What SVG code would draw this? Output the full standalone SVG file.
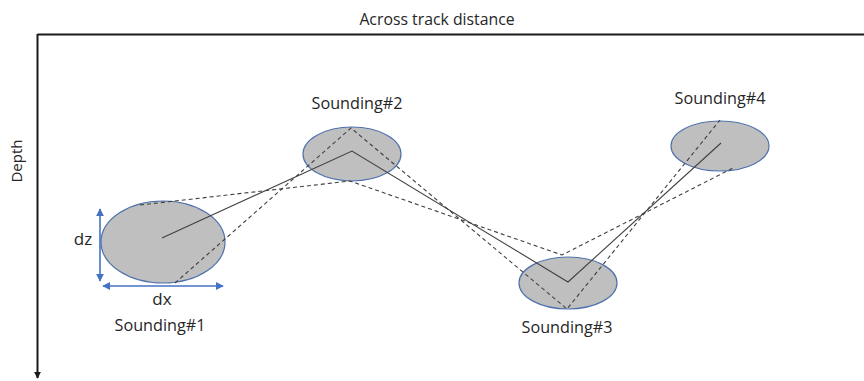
<svg xmlns="http://www.w3.org/2000/svg" width="864" height="381" viewBox="0 0 864 381">
<defs>
<style>
.lbl{font-family:"Open Sans","Liberation Sans",sans-serif;font-size:16.2px;fill:#262626;text-anchor:middle}
.ell{fill:#bfbfbf;stroke:#4f72ad;stroke-width:1.2}
.solid{fill:none;stroke:#404040;stroke-width:1.1}
.dash{fill:none;stroke:#404040;stroke-width:1.1;stroke-dasharray:4 3}
.blue{fill:none;stroke:#4472c4;stroke-width:1.6}
.axis{fill:none;stroke:#1a1a1a;stroke-width:2}
</style>
<marker id="bh" viewBox="0 0 10 10" refX="9" refY="5" markerWidth="5" markerHeight="5" orient="auto-start-reverse" markerUnits="strokeWidth">
<path d="M0,0 L10,5 L0,10 z" fill="#4472c4"/>
</marker>
<marker id="ah" viewBox="0 0 10 10" refX="9" refY="5" markerWidth="3.5" markerHeight="3.5" orient="auto" markerUnits="strokeWidth">
<path d="M0,0 L10,5 L0,10 z" fill="#1a1a1a"/>
</marker>
</defs>
<g id="axes">
<path class="axis" d="M37.5,34.5 H864"/>
<path class="axis" d="M37.5,34 V378" marker-end="url(#ah)"/>
<text class="lbl" style="font-size:15.8px" x="437" y="25">Across track distance</text>
<text class="lbl" style="font-size:15px" transform="translate(22,161) rotate(-90)">Depth</text>
</g>
<g id="sounding1">
<ellipse class="ell" cx="163" cy="242" rx="62" ry="41"/>
<text class="lbl" x="160" y="331">Sounding#1</text>
</g>
<g id="sounding2">
<ellipse class="ell" cx="352" cy="154" rx="49" ry="27"/>
<text class="lbl" x="357" y="109">Sounding#2</text>
</g>
<g id="sounding3">
<ellipse class="ell" cx="568" cy="283" rx="49" ry="26"/>
<text class="lbl" x="567" y="333">Sounding#3</text>
</g>
<g id="sounding4">
<ellipse class="ell" cx="720" cy="146" rx="49" ry="25"/>
<text class="lbl" x="720" y="104">Sounding#4</text>
</g>
<g id="dimensions">
<path class="blue" d="M100,209 V281" marker-start="url(#bh)" marker-end="url(#bh)"/>
<path class="blue" d="M103,286 H223" marker-start="url(#bh)" marker-end="url(#bh)"/>
<text class="lbl" style="font-size:17px" x="83" y="245">dz</text>
<text class="lbl" style="font-size:17px" x="162" y="305">dx</text>
</g>
<g id="connectors">
<path class="solid" d="M162,238 L352,151 L568,282 L721,143"/>
<path class="dash" d="M140,205 L350,181 L562,255 L735,167"/>
<path class="dash" d="M175,283 L351,128 L567,309 L720,120"/>
</g>
</svg>
